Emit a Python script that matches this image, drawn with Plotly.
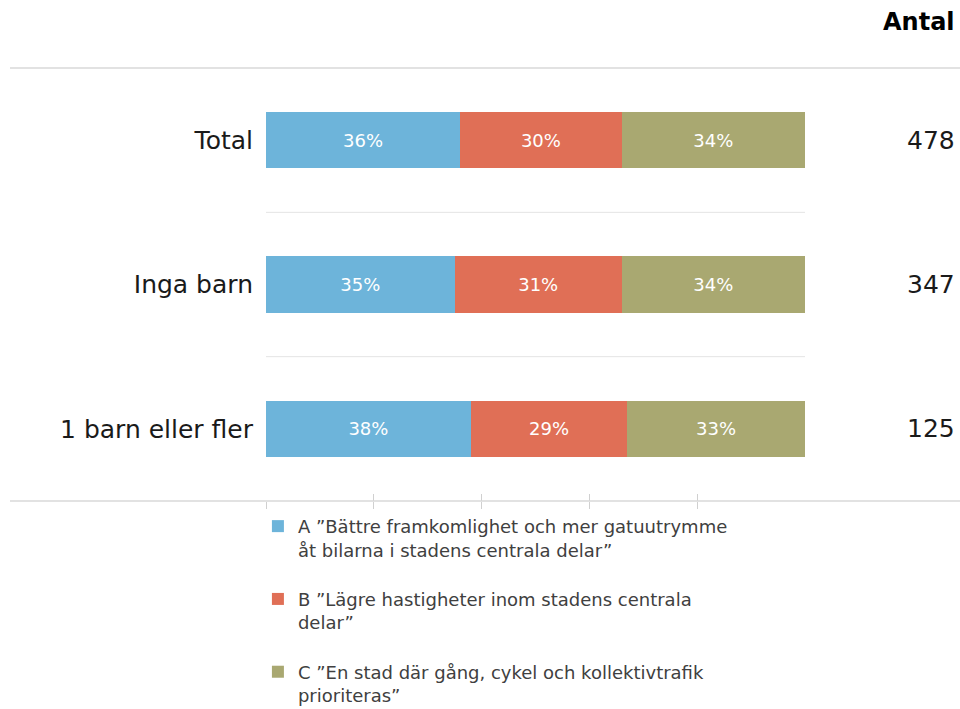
import plotly.graph_objects as go

categories = ["Total", "Inga barn", "1 barn eller fler"]
share_a = [36, 35, 38]
share_b = [30, 31, 29]
share_c = [34, 34, 33]
antal = [478, 347, 125]
series_names = [
    "A ”Bättre framkomlighet och mer gatuutrymme<br>åt bilarna i stadens centrala delar”",
    "B ”Lägre hastigheter inom stadens centrala<br>delar”",
    "C ”En stad där gång, cykel och kollektivtrafik<br>prioriteras”",
]
series_values = [share_a, share_b, share_c]
colors = ["#6DB4DA", "#E06F56", "#A9A871"]
tick_values = [0, 20, 40, 60, 80]

FONT = "DejaVu Sans"

fig = go.Figure()
for i, (name, vals, col) in enumerate(zip(series_names, series_values, colors)):
    fig.add_trace(go.Bar(
        y=categories, x=vals, orientation="h", name=name,
        marker=dict(color=col, line=dict(width=0)),
        width=0.39,
        text=[f"{v}%" for v in vals], textposition="inside",
        insidetextanchor="middle",
        textfont=dict(color="white", size=18, family=FONT),
        legendgroup=f"g{i}",
        hoverinfo="skip",
    ))

# helper trace for the secondary (inside) tick axis
fig.add_trace(go.Scatter(x=[0], y=[categories[0]], xaxis="x2", mode="none",
                         showlegend=False, hoverinfo="skip"))

shapes = []
# separators between categories
for k in range(len(categories) - 1):
    shapes.append(dict(type="line", xref="x", yref="y", x0=0, x1=100,
                       y0=k + 0.5, y1=k + 0.5,
                       line=dict(color="#E4E4E4", width=1)))
# top and bottom full-width rules
for yy in [0, 1]:
    shapes.append(dict(type="line", xref="paper", yref="paper",
                       x0=-0.475, x1=1.29, y0=yy, y1=yy,
                       line=dict(color="#D9D9D9", width=1.5)))

annotations = [dict(text="<b>Antal</b>", xref="paper", yref="paper",
                    x=1.282, y=1.107, xanchor="right", yanchor="middle",
                    showarrow=False, font=dict(size=24, color="#000000", family=FONT))]
for c, n in zip(categories, antal):
    annotations.append(dict(text=str(n), xref="paper", yref="y", x=1.282, y=c,
                            xanchor="right", yanchor="middle", showarrow=False,
                            font=dict(size=25, color="#1a1a1a", family=FONT)))

fig.update_layout(
    width=960, height=709,
    barmode="stack",
    plot_bgcolor="white", paper_bgcolor="white",
    margin=dict(l=266, r=155, t=68, b=208, autoexpand=False),
    font=dict(family=FONT),
    xaxis=dict(range=[0, 100], showgrid=False, zeroline=False, showline=False,
               showticklabels=False, tickvals=tick_values, ticks="outside",
               ticklen=7, tickcolor="#D0D0D0", tickwidth=1),
    xaxis2=dict(range=[0, 100], overlaying="x", anchor="y", side="bottom",
                showgrid=False, zeroline=False, showline=False,
                showticklabels=False, tickvals=tick_values, ticks="inside",
                ticklen=7, tickcolor="#D0D0D0", tickwidth=1),
    yaxis=dict(categoryorder="array", categoryarray=categories,
               range=[2.5, -0.5], showgrid=False, zeroline=False, showline=False,
               ticks="", ticklabelstandoff=12,
               tickfont=dict(size=25, color="#1a1a1a", family=FONT)),
    legend=dict(x=-0.015, xanchor="left", y=-0.016, yanchor="top",
                orientation="v", traceorder="grouped", tracegroupgap=23,
                valign="top",
                font=dict(size=18, color="#404040", family=FONT),
                bgcolor="rgba(0,0,0,0)"),
    shapes=shapes,
    annotations=annotations,
)

fig.write_html("out.html", config={"displayModeBar": False},
               post_script="document.body.style.margin='0px';document.body.style.padding='0px';")
